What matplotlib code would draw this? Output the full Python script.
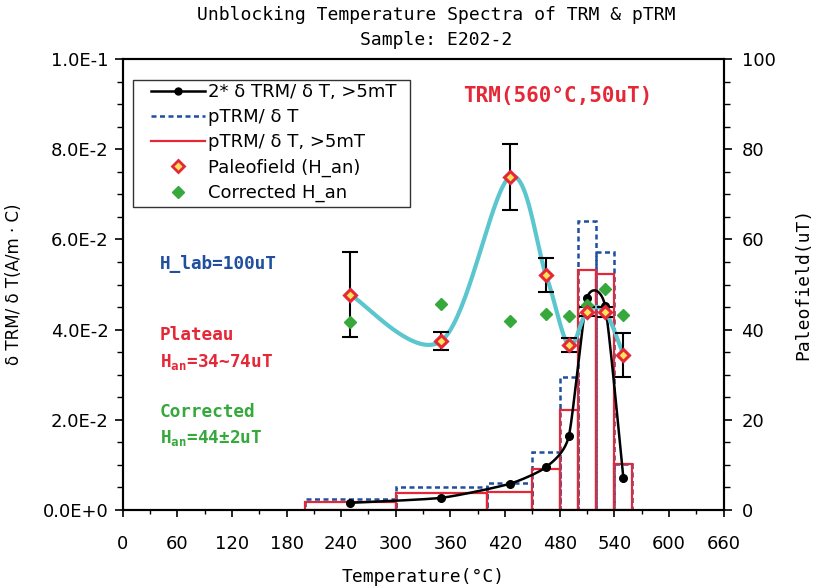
import matplotlib
matplotlib.use('Agg')
import matplotlib.pyplot as plt
from matplotlib.ticker import MultipleLocator, FuncFormatter
from matplotlib.patches import Rectangle
import numpy as np

plt.rcParams['font.family'] = ['DejaVu Sans']
plt.rcParams['mathtext.fontset'] = 'custom'
plt.rcParams['mathtext.rm'] = 'DejaVu Sans Mono:bold'
plt.rcParams['mathtext.it'] = 'DejaVu Sans Mono:bold'

MONO = 'DejaVu Sans Mono'
RED = '#e52838'
BLUE = '#1f4f9e'
GREEN = '#36a83c'
CYAN = '#5cc6cf'
YELLOW = '#ffe35a'

# pTRM histogram bins (degC)
bin_left = [200, 300, 400, 450, 480, 500, 520, 540]
bin_right = [300, 400, 450, 480, 500, 520, 540, 560]
ptrm_all = [0.0024, 0.0052, 0.0059, 0.0129, 0.0296, 0.0641, 0.0572, 0.0103]
ptrm_5mt = [0.0018, 0.0038, 0.0039, 0.0091, 0.0222, 0.0532, 0.0523, 0.0102]

# step mid temperatures
temps = [250, 350, 425, 465, 490, 510, 530, 550]
dtrm_2x = [0.0016, 0.0027, 0.0058, 0.0095, 0.0163, 0.0469, 0.0452, 0.0071]
paleo = [47.7, 37.5, 73.8, 52.1, 36.6, 44.0, 43.9, 34.4]
paleo_err = [9.4, 2.0, 7.3, 3.7, 1.6, 1.0, 1.2, 4.9]
corrected = [41.7, 45.7, 41.8, 43.4, 43.0, 45.5, 49.0, 43.2]

W, H = 814, 587


def px(x, y):
    # pixel position -> figure fraction
    return x / W, 1 - y / H


def smooth_curve(xs, ys, sx, sy, tension=1 / 6, n=40):
    # bezier smoothing through the points, done in screen units
    P = np.column_stack([np.asarray(xs, float) * sx, np.asarray(ys, float) * sy])
    E = np.vstack([P[0], P, P[-1]])
    t = np.linspace(0, 1, n)[:, None]
    segs = []
    for i in range(len(P) - 1):
        p0, p1, p2, p3 = E[i], E[i + 1], E[i + 2], E[i + 3]
        c1 = p1 + (p2 - p0) * tension
        c2 = p2 - (p3 - p1) * tension
        seg = (1 - t) ** 3 * p1 + 3 * (1 - t) ** 2 * t * c1 + 3 * (1 - t) * t ** 2 * c2 + t ** 3 * p2
        segs.append(seg)
    S = np.vstack(segs)
    return S[:, 0] / sx, S[:, 1] / sy


def sci_fmt(v, pos):
    if abs(v) < 1e-12:
        return '0.0E+0'
    e = int(np.floor(np.log10(abs(v)) + 1e-9))
    return f'{v / 10 ** e:.1f}E{e:+d}'


fig = plt.figure(figsize=(W / 100, H / 100), dpi=100)
ax = fig.add_axes([122.7 / W, 1 - 510 / H, 600.8 / W, 451 / H])
ax2 = ax.twinx()

widths = np.subtract(bin_right, bin_left)
ax.bar(bin_left, ptrm_all, width=widths, align='edge', fill=False,
       edgecolor=BLUE, linewidth=1.8, linestyle=(0, (2, 1.4)), zorder=1)
ax.bar(bin_left, ptrm_5mt, width=widths, align='edge', fill=False,
       edgecolor=RED, linewidth=1.6, zorder=1.5)

sx = 600.8 / 660
sy_left = 451 / 0.1
bx, by = smooth_curve(temps, dtrm_2x, sx, sy_left, tension=1 / 10)
ax.plot(bx, by, color='black', lw=1.8, zorder=3)
ax.plot(temps, dtrm_2x, 'o', color='black', ms=5.5, zorder=4)

sy_right = 451 / 100
cx, cy = smooth_curve(temps, paleo, sx, sy_right, tension=1 / 6)
ax2.plot(cx, cy, color=CYAN, lw=3.0, zorder=2)
ax2.errorbar(temps, paleo, yerr=paleo_err, fmt='none', ecolor='black',
             elinewidth=1.5, capsize=6, capthick=1.5, zorder=3)
ax2.plot(temps, corrected, 'D', color=GREEN, ms=6.5, zorder=4)
ax2.plot(temps, paleo, 'D', ms=6.5, mfc=YELLOW, mec=RED, mew=2.2, zorder=5)

ax.set_xlim(0, 660)
ax.set_ylim(0, 0.1)
ax2.set_ylim(0, 100)

ax.xaxis.set_major_locator(MultipleLocator(60))
ax.xaxis.set_minor_locator(MultipleLocator(30))
ax.yaxis.set_major_locator(MultipleLocator(0.02))
ax.yaxis.set_minor_locator(MultipleLocator(0.005))
ax.yaxis.set_major_formatter(FuncFormatter(sci_fmt))
ax2.yaxis.set_major_locator(MultipleLocator(20))
ax2.yaxis.set_minor_locator(MultipleLocator(5))

ax.tick_params(axis='x', which='major', length=5, width=1.2, labelsize=13, pad=13)
ax.tick_params(axis='x', which='minor', length=3, width=1.0)
ax.tick_params(axis='y', which='major', length=6, width=1.2, labelsize=13, pad=4)
ax.tick_params(axis='y', which='minor', length=4, width=1.0)
ax2.tick_params(axis='y', which='major', length=6, width=1.2, labelsize=13, pad=7)
ax2.tick_params(axis='y', which='minor', length=4, width=1.0)
for a in (ax, ax2):
    for s in a.spines.values():
        s.set_linewidth(1.5)

# legend (frame drawn separately so the inner padding matches)
h1, = ax.plot([], [], color='black', lw=1.8, marker='o', ms=5)
h2, = ax.plot([], [], color=BLUE, lw=1.8, ls=(0, (2, 1.4)))
h3, = ax.plot([], [], color=RED, lw=1.6)
h4, = ax.plot([], [], ls='none', marker='D', ms=6, mfc=YELLOW, mec=RED, mew=2)
h5, = ax.plot([], [], ls='none', marker='D', ms=6, color=GREEN)
frame = Rectangle(px(133, 207), 277 / W, 127 / H, transform=fig.transFigure,
                  facecolor='white', edgecolor='#333333', linewidth=1.0, zorder=9)
ax2.add_artist(frame)
frame.set_clip_on(False)
leg = ax2.legend([h1, h2, h3, h4, h5],
                 ['2* δ TRM/ δ T, >5mT', 'pTRM/ δ T', 'pTRM/ δ T, >5mT',
                  'Paleofield (H_an)', 'Corrected H_an'],
                 loc='upper left', bbox_to_anchor=px(151, 83), bbox_transform=fig.transFigure,
                 borderaxespad=0, borderpad=0, frameon=False,
                 fontsize=13, handlelength=3.0, handletextpad=0.15, labelspacing=0.4)
leg.set_zorder(10)

# titles and axis labels
fig.text(*px(436, 15), 'Unblocking Temperature Spectra of TRM & pTRM',
         family=MONO, fontsize=13, ha='center', va='center')
fig.text(*px(436, 40), 'Sample: E202-2', family=MONO, fontsize=13, ha='center', va='center')
fig.text(*px(423, 577), 'Temperature(°C)', family=MONO, fontsize=13, ha='center', va='center')
fig.text(*px(14, 284), 'δ TRM/ δ T(A/m · C)', fontsize=12, rotation=90, ha='center', va='center')
fig.text(*px(803, 284), 'Paleofield(uT)', family=MONO, fontsize=13, rotation=90,
         ha='center', va='center')

# annotations
fig.text(*px(463, 96), 'TRM(560°C,50uT)', family=MONO, fontsize=15, weight='bold',
         color=RED, ha='left', va='center')
fig.text(*px(160, 264), 'H_lab=100uT', family=MONO, fontsize=12.8, weight='bold',
         color=BLUE, ha='left', va='center')
fig.text(*px(160, 335), 'Plateau', family=MONO, fontsize=12.8, weight='bold',
         color=RED, ha='left', va='center')
fig.text(*px(160, 362), 'H$_{an}$=34~74uT', family=MONO, fontsize=12.8, weight='bold',
         color=RED, ha='left', va='center')
fig.text(*px(160, 412), 'Corrected', family=MONO, fontsize=12.8, weight='bold',
         color=GREEN, ha='left', va='center')
fig.text(*px(160, 438), 'H$_{an}$=44±2uT', family=MONO, fontsize=12.8, weight='bold',
         color=GREEN, ha='left', va='center')

fig.savefig('out.png', dpi=100)
